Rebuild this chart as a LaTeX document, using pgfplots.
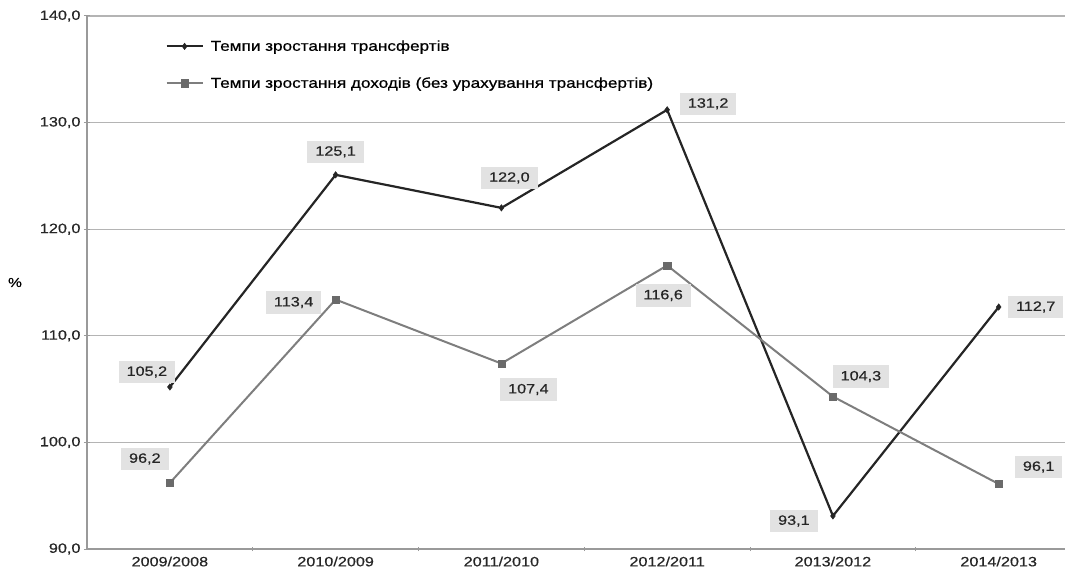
\documentclass[border=0pt]{standalone}
\usepackage{fontspec}
\setmainfont{Liberation Sans}[FakeStretch=1.2,FakeBold=0.6]
\usepackage{pgfplots}
\pgfplotsset{compat=1.18}
\definecolor{tline}{HTML}{252525}
\definecolor{rline}{HTML}{7E7E7E}
\definecolor{rmark}{HTML}{6A6A6A}
\definecolor{gridc}{HTML}{B4B4B4}
\definecolor{axc}{HTML}{9A9A9A}
\definecolor{boxc}{HTML}{E2E2E2}
\begin{document}
\begin{tikzpicture}[x=1pt,y=1pt]
\path[use as bounding box] (-87,-30) rectangle (983,549);
\begin{axis}[
  at={(0,0)}, anchor=south west,
  scale only axis, width=978pt, height=533pt,
  xmin=-0.5, xmax=5.4, ymin=90, ymax=140,
  ytick={90,100,...,140},
  xtick={0,...,5},
  xticklabels={2009/2008,2010/2009,2011/2010,2012/2011,2013/2012,2014/2013},
  minor xtick={0.5,1.5,2.5,3.5,4.5},
  major x tick style={draw=none},
  minor x tick style={axc, line width=1pt},
  minor tick length=4pt,
  y tick style={axc, line width=1pt},
  major tick length=6pt,
  tick align=outside,
  axis x line=bottom, axis y line=left,
  axis line style={axc, line width=1.8pt, -},
  ymajorgrids, grid style={gridc, line width=1.2pt},
  yticklabel style={/pgf/number format/.cd, fixed, fixed zerofill, precision=1, use comma},
  /pgf/number format/assume math mode=true,
  ticklabel style={font=\fontsize{13.5}{15}\selectfont, text=black!85},
  xticklabel style={yshift=-1pt},
  clip=false,
  legend style={at={(rel axis cs:0.077,0.962)}, anchor=north west, draw=none, fill=none,
    font=\fontsize{14.3}{16}\selectfont, row sep=21pt, cells={anchor=west}},
  legend cell align=left,
  legend image code/.code={\draw[mark repeat=2,mark phase=2,#1] plot coordinates {(0pt,0pt) (18pt,0pt) (36pt,0pt)}; \path (41pt,0pt);},
]
\addplot[tline, line width=2.2pt, mark=diamond*, mark size=3.2pt, mark options={solid, line width=0.5pt}]
  coordinates {(0,105.2) (1,125.1) (2,122.0) (3,131.2) (4,93.1) (5,112.7)};
\addlegendentry{Темпи зростання трансфертів}
\addplot[rline, line width=2pt, mark=square*, mark size=3.6pt, mark options={solid, fill=rmark, draw=rmark, line width=0.5pt}]
  coordinates {(0,96.2) (1,113.4) (2,107.4) (3,116.6) (4,104.3) (5,96.1)};
\addlegendentry{Темпи зростання доходів (без урахування трансфертів)}
\tikzset{lbl/.style={fill=boxc, inner xsep=8pt, inner ysep=5.5pt, font=\fontsize{13.5}{15}\selectfont, text=black!85}}
\node[lbl, xshift=-23pt, yshift=15pt] at (axis cs:0,105.2) {105,2};
\node[lbl, xshift=0pt, yshift=23pt] at (axis cs:1,125.1) {125,1};
\node[lbl, xshift=8pt, yshift=30pt] at (axis cs:2,122.0) {122,0};
\node[lbl, xshift=41pt, yshift=6pt] at (axis cs:3,131.2) {131,2};
\node[lbl, xshift=-39pt, yshift=-5pt] at (axis cs:4,93.1) {93,1};
\node[lbl, xshift=37pt, yshift=0pt] at (axis cs:5,112.7) {112,7};
\node[lbl, xshift=-25pt, yshift=24pt] at (axis cs:0,96.2) {96,2};
\node[lbl, xshift=-42pt, yshift=-3pt] at (axis cs:1,113.4) {113,4};
\node[lbl, xshift=27pt, yshift=-26pt] at (axis cs:2,107.4) {107,4};
\node[lbl, xshift=-4pt, yshift=-30pt] at (axis cs:3,116.6) {116,6};
\node[lbl, xshift=28pt, yshift=20pt] at (axis cs:4,104.3) {104,3};
\node[lbl, xshift=40pt, yshift=17pt] at (axis cs:5,96.1) {96,1};
\node[font=\fontsize{13}{15}\selectfont] at (rel axis cs:0,0.5) [xshift=-72pt] {\%};
\end{axis}
\end{tikzpicture}
\end{document}
